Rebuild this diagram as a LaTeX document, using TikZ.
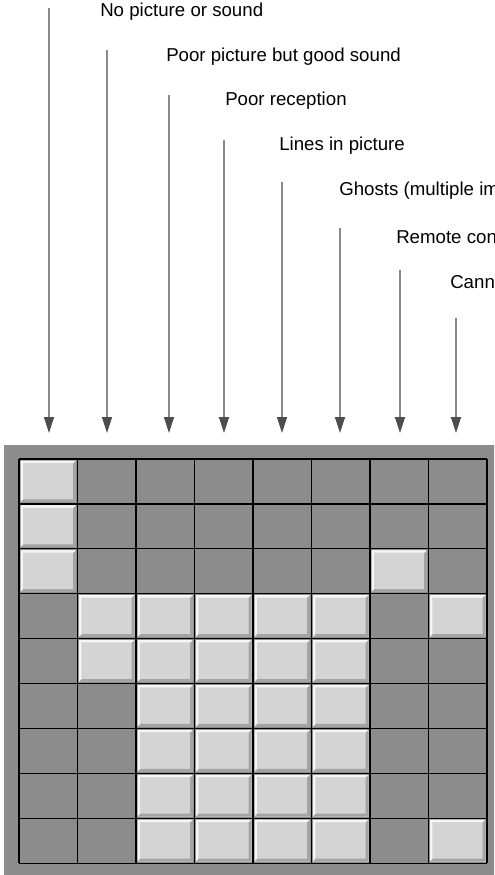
\documentclass[tikz,border=0pt]{standalone}
\usepackage{fontspec}
\setmainfont{Liberation Sans}
\usepackage{xcolor}
\usetikzlibrary{arrows.meta}
\definecolor{frameGray}{HTML}{8C8C8C}
\definecolor{litFace}{HTML}{D4D4D4}
\definecolor{litHigh}{HTML}{F6F6F6}
\definecolor{litShade}{HTML}{A4A4A4}
\definecolor{arrowGray}{HTML}{8A8A8A}
\definecolor{headGray}{HTML}{4D4D4D}
\definecolor{bodyText}{HTML}{000000}

\begin{document}
\begin{tikzpicture}[
  x=0.75pt, y=-0.75pt,
  every node/.style={font=\fontsize{14}{16}\selectfont, text=bodyText, inner sep=0pt},
  lbl/.style={anchor=west},
  feed/.style={draw=arrowGray, line width=0.9pt,
               -{Triangle[length=12pt, width=7.5pt, color=headGray]}},
  cellline/.style={draw=black, line width=0.9pt},
  lit/.pic={
    \fill[litFace] (1.5,1.5) rectangle (57,43.4);
    \fill[litHigh] (1.5,1.5) -- (57,1.5) -- (55,3.8) -- (3.8,3.8) -- (3.8,40.6) -- (1.5,43.4) -- cycle;
    \fill[litShade] (57,1.5) -- (57,43.4) -- (1.5,43.4) -- (4.5,40.4) -- (54.2,40.4) -- (54.2,4.3) -- cycle;
  },
]
  \useasboundingbox (0,0) rectangle (494,875);
  \clip (0,0) rectangle (494,875);

  % panel
  \fill[frameGray] (4,445) rectangle (510,875);
  \foreach \c/\r in {0/0, 0/1, 0/2, 6/2, 1/3, 2/3, 3/3, 4/3, 5/3, 7/3,
                     1/4, 2/4, 3/4, 4/4, 5/4, 2/5, 3/5, 4/5, 5/5,
                     2/6, 3/6, 4/6, 5/6, 2/7, 3/7, 4/7, 5/7,
                     2/8, 3/8, 4/8, 5/8, 7/8}
    \pic at ({19+\c*58.5},{459+\r*44.9}) {lit};
  \foreach \c in {0,...,8}
    \draw[cellline] ({19+\c*58.5},459) -- ({19+\c*58.5},863);
  \foreach \r in {0,...,9}
    \draw[cellline] (19,{459+\r*44.9}) -- (487,{459+\r*44.9});

  % arrow ends
  \foreach \i/\x/\y in {1/49/8, 2/107/50, 3/169/95, 4/224/140,
                        5/282/182, 6/340/228, 7/400/270, 8/456/318} {
    \coordinate (top\i) at (\x,\y);
    \coordinate (tip\i) at (\x,433);
  }

  \node[lbl] at (100, 12) (lbl1) {No picture or sound};
  \node[lbl] at (166, 57) (lbl2) {Poor picture but good sound};
  \node[lbl] at (225,101) (lbl3) {Poor reception};
  \node[lbl] at (279,146) (lbl4) {Lines in picture};
  \node[lbl] at (339,191) (lbl5) {Ghosts (multiple im};
  \node[lbl] at (396,237) (lbl6) {Remote con};
  \node[lbl] at (450,282) (lbl7) {Cann};

  \foreach \i in {1,...,8}
    \draw[feed] (top\i) -- (tip\i);
\end{tikzpicture}
\end{document}
